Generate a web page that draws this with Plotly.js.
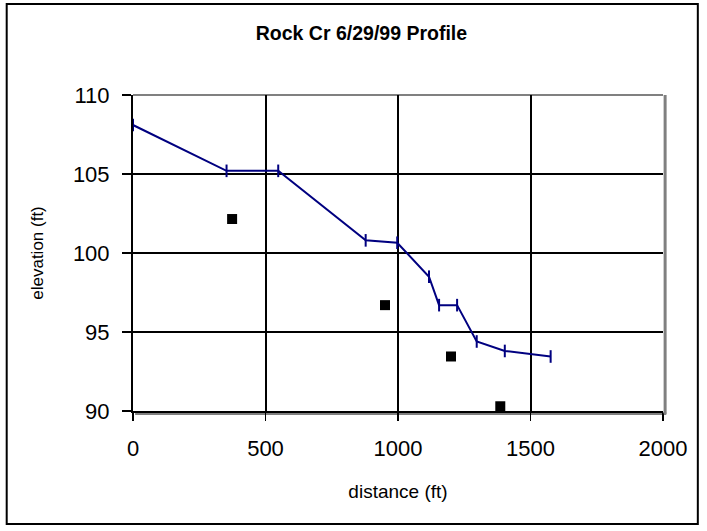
<!DOCTYPE html>
<html><head><meta charset="utf-8">
<script src="https://cdn.plot.ly/plotly-3.0.1.min.js"></script>
<style>html,body{margin:0;padding:0;background:#fff}#chart{width:707px;height:531px}</style>
</head><body><div id="chart"></div>
<script>
const profileDistance = [0, 353, 548, 878, 997, 1117, 1155, 1223, 1297, 1403, 1576];
const profileElevation = [108.1, 105.2, 105.2, 100.8, 100.65, 98.5, 96.7, 96.7, 94.4, 93.8, 93.45];
const pointDistance = [374, 951, 1200, 1386];
const pointElevation = [102.15, 96.7, 93.45, 90.3];
const xTicks = [0, 500, 1000, 1500, 2000];
const yTicks = [90, 95, 100, 105, 110];

const traces = [
  {x: profileDistance, y: profileElevation, type: 'scatter', mode: 'lines+markers',
   line: {color: '#000080', width: 2},
   marker: {symbol: 'line-ns', size: 9, line: {color: '#000080', width: 2}},
   cliponaxis: false, hoverinfo: 'skip'},
  {x: pointDistance, y: pointElevation, type: 'scatter', mode: 'markers',
   marker: {symbol: 'square', size: 10, color: '#000000'},
   cliponaxis: false, hoverinfo: 'skip'}
];

const layout = {
  width: 707, height: 531,
  margin: {l: 133, r: 44, t: 95, b: 120},
  paper_bgcolor: '#ffffff', plot_bgcolor: '#ffffff',
  showlegend: false,
  font: {family: 'Liberation Sans, Arial, sans-serif', color: '#000'},
  title: {text: '<b>Rock Cr 6/29/99 Profile</b>', font: {size: 19.5, color: '#000'},
          xref: 'paper', x: 0.431, xanchor: 'center', yref: 'container', y: 0.938, yanchor: 'middle'},
  xaxis: {range: [0, 2000], tickvals: xTicks, ticktext: xTicks.map(String),
          showgrid: true, gridcolor: '#000', gridwidth: 2, zeroline: false,
          showline: true, linecolor: '#000', linewidth: 2,
          ticks: 'outside', ticklen: 8, tickwidth: 1.5, tickcolor: '#000',
          ticklabelstandoff: 9,
          tickfont: {size: 22}, fixedrange: true,
          title: {text: 'distance (ft)', font: {size: 19}, standoff: 24}},
  yaxis: {range: [90, 110], tickvals: yTicks, ticktext: yTicks.map(String),
          showgrid: true, gridcolor: '#000', gridwidth: 2, zeroline: false,
          showline: true, linecolor: '#000', linewidth: 2,
          ticks: 'outside', ticklen: 9, tickwidth: 1.5, tickcolor: '#000',
          ticklabelstandoff: 8,
          tickfont: {size: 22}, fixedrange: true,
          title: {text: 'elevation (ft)', font: {size: 17}, standoff: 25}},
  shapes: [
    {type: 'line', xref: 'paper', yref: 'paper', x0: 0, x1: 1, y0: 1, y1: 1,
     line: {color: '#808080', width: 2}, layer: 'below'},
    {type: 'line', xref: 'paper', yref: 'paper', x0: 1.004, x1: 1.004, y0: -0.01, y1: 1,
     line: {color: '#808080', width: 3}},
    {type: 'line', xref: 'paper', yref: 'paper', x0: 0.004, x1: 1.006, y0: -0.008, y1: -0.008,
     line: {color: '#808080', width: 3}, layer: 'below'},
    {type: 'rect', xref: 'paper', yref: 'paper', x0: -0.2383, x1: 1.0657, y0: -0.3576, y1: 1.288,
     line: {color: '#000', width: 2}}
  ]
};
Plotly.newPlot('chart', traces, layout, {staticPlot: true, displayModeBar: false});
</script></body></html>
